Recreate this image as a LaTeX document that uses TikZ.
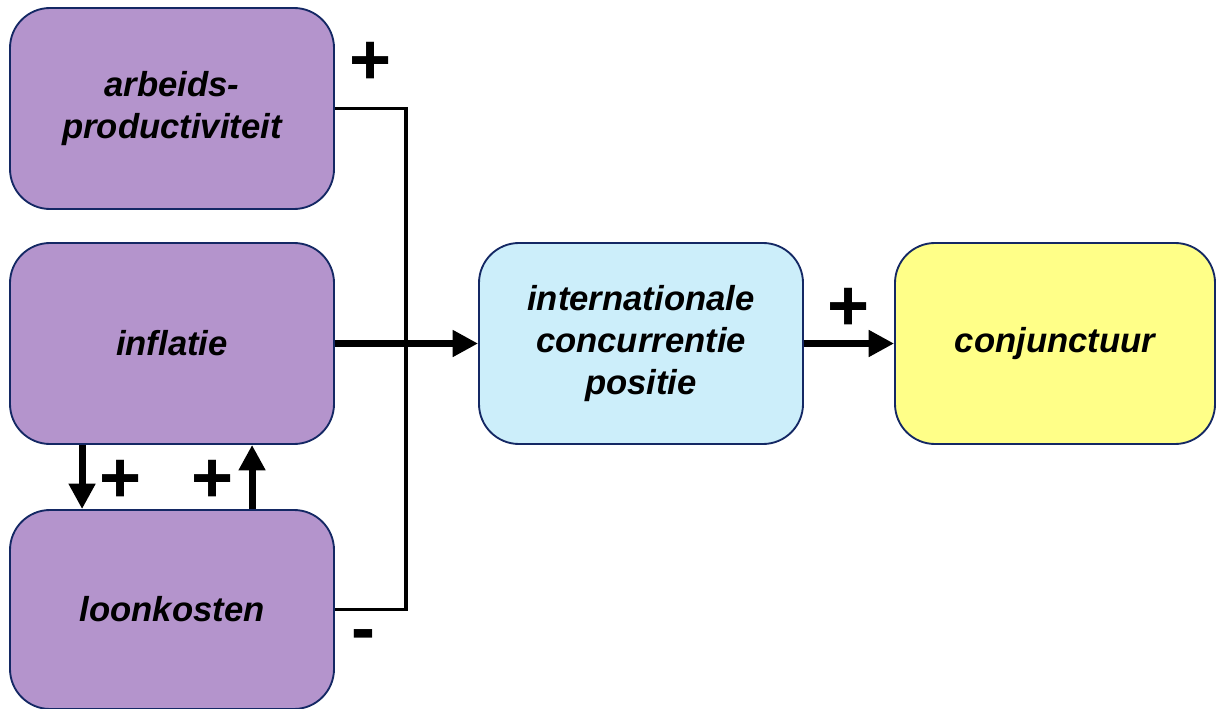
\documentclass[tikz,border=0pt]{standalone}
\usepackage{fontspec}
\setmainfont{Liberation Sans}
\usetikzlibrary{arrows.meta,calc}
\definecolor{boxpurple}{RGB}{180,148,204}
\definecolor{boxblue}{RGB}{204,238,250}
\definecolor{boxyellow}{RGB}{255,255,136}
\definecolor{boxborder}{RGB}{20,40,100}
\begin{document}
\begin{tikzpicture}[x=0.75pt,y=-0.75pt,
  box/.style={draw=boxborder, line width=1.4pt, rounded corners=30pt,
    minimum width=243pt, minimum height=150.75pt, align=center, inner sep=0pt,
    font=\fontsize{26}{31.5}\selectfont\bfseries\itshape},
  thinline/.style={line width=2.3pt, line join=miter},
  arr/.style={line width=5.3pt, -{Triangle[length=19pt,width=19pt]}},
  sign/.style={inner sep=0pt, font=\fontsize{54}{60}\selectfont\bfseries}]
\useasboundingbox (0,0) rectangle (1216,709);
\node[box, fill=boxpurple] (arb) at (172,108.5) {arbeids-\\productiviteit};
\node[box, fill=boxpurple] (infl) at (172,343.5) {inflatie};
\node[box, fill=boxpurple, minimum height=149.25pt] (loon) at (172,609.5) {loonkosten};
\node[box, fill=boxblue] (intl) at (641,343.5) {internationale\\concurrentie\\positie};
\node[box, fill=boxyellow, minimum width=240pt] (conj) at (1055,343.5) {conjunctuur};
\coordinate (j1) at (406,108.5);
\draw[thinline] (arb.east) -- (j1) -- (j1 |- loon.east) -- (loon.east);
\draw[arr] (infl.east) -- (intl.west);
\draw[arr] (intl.east) -- (conj.west);
\draw[arr] ([xshift=54.75pt]infl.south west) -- ([xshift=54.75pt]loon.north west);
\draw[arr] ([xshift=182.25pt]loon.north west) -- ([xshift=182.25pt]infl.south west);
\node[sign] (p1) at (371,63) {+};
\node[sign] (p2) at (121,481) {+};
\node[sign] (p3) at (213,481) {+};
\node[sign] (p4) at (849,309) {+};
\node[sign] (m1) at (363,641) {-};
\end{tikzpicture}
\end{document}
